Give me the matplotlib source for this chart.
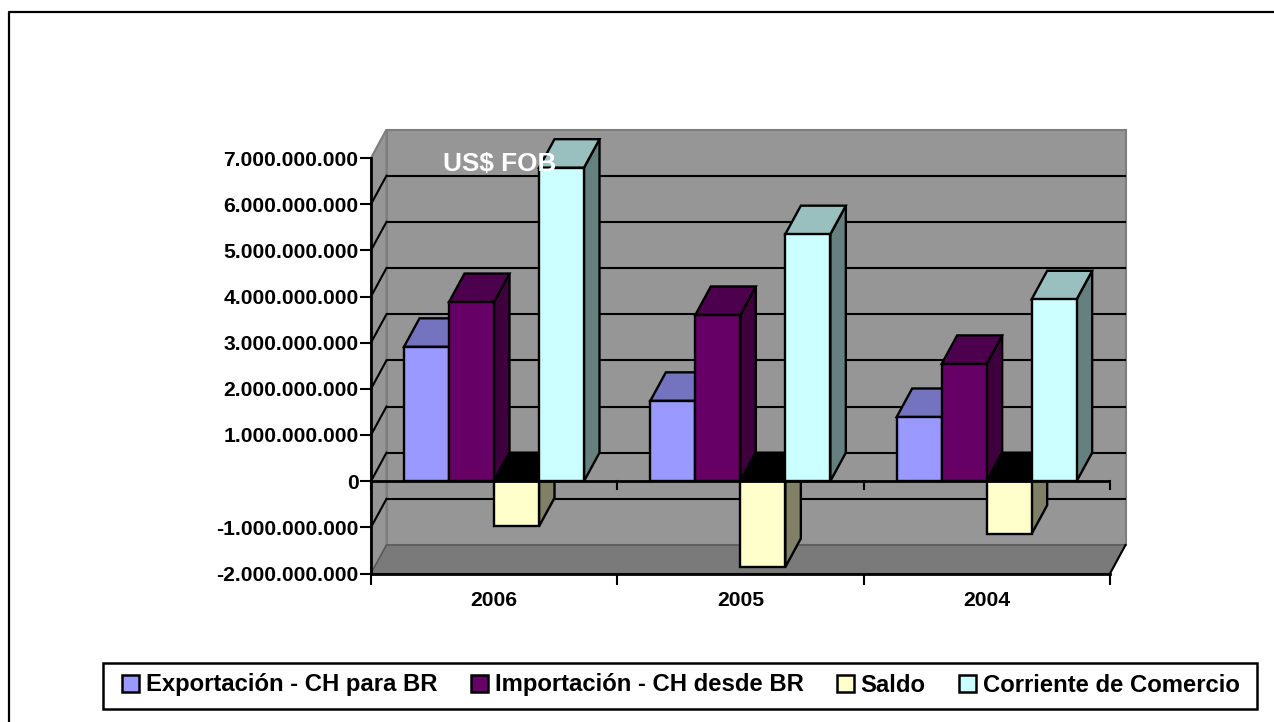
import numpy as np
from matplotlib import pyplot as plt
from matplotlib.lines import Line2D
from matplotlib.patches import Polygon, Rectangle

years = ['2006', '2005', '2004']
series = ['Exportación - CH para BR', 'Importación - CH desde BR', 'Saldo', 'Corriente de Comercio']
exportacion = [2.91e9, 1.74e9, 1.39e9]
importacion = [3.88e9, 3.60e9, 2.54e9]
saldo = [-0.98e9, -1.86e9, -1.14e9]
corriente = [6.79e9, 5.35e9, 3.94e9]
values = [exportacion, importacion, saldo, corriente]
front = ['#9999ff', '#660066', '#ffffcc', '#ccffff']
top = ['#7373bf', '#4d004d', '#000000', '#99bfbf']
side = ['#5c5c99', '#3d003d', '#808066', '#668080']

W, H = 1274, 722
plt.rcParams['font.family'] = ['Liberation Sans', 'DejaVu Sans']
plt.rcParams['font.weight'] = 'bold'

fig = plt.figure(figsize=(W / 100, H / 100), dpi=100)
# outer frame: only left and top edges show in the picture
fig.add_artist(Line2D([9 / W, 9 / W, 1], [0, 1 - 12 / H, 1 - 12 / H], color='black', lw=1.6))

# axes box is the front plane of the 3d chart
ax = fig.add_axes([371 / W, 1 - 573.5 / H, 739 / W, 415.5 / H])
ax.set_xlim(0, 3)
ax.set_ylim(-2e9, 7e9)
ax.patch.set_visible(False)

# depth of the box, in data units
dx = 15.5 / 739 * 3
dy = 28.5 / 415.5 * 9e9
ymin, ymax = -2e9, 7e9


def poly(pts, fc, ec='none', lw=0, z=1):
    ax.add_patch(Polygon(pts, closed=True, fc=fc, ec=ec, lw=lw, zorder=z, clip_on=False,
                         joinstyle='miter'))


# walls and floor
poly([(dx, ymin + dy), (3 + dx, ymin + dy), (3 + dx, ymax + dy), (dx, ymax + dy)], '#969696', '#7d7d7d', 1.5, 1)
poly([(0, ymin), (dx, ymin + dy), (dx, ymax + dy), (0, ymax)], '#969696', '#7d7d7d', 1.5, 1)
poly([(0, ymin), (3, ymin), (3 + dx, ymin + dy), (dx, ymin + dy)], '#7a7a7a', '#555555', 1, 1.5)

# gridlines on back and side wall
for v in np.arange(-1e9, 7e9, 1e9):
    ax.plot([dx, 3 + dx - 0.003], [v + dy, v + dy], color='black', lw=1.5, zorder=2, clip_on=False)
    ax.plot([0, dx], [v, v + dy], color='black', lw=1.5, zorder=2, clip_on=False)
ax.plot([3, 3 + dx], [ymin, ymin + dy], color='black', lw=1.5, zorder=2, clip_on=False)

# bars, left to right inside each group
bw = 45 / 739 * 3
start = 33 / 739 * 3
z = 3
for g in range(len(years)):
    for s in range(len(series)):
        v = values[s][g]
        x0 = g + start + s * bw
        x1 = x0 + bw
        if v >= 0:
            poly([(x1, 0), (x1 + dx, dy), (x1 + dx, v + dy), (x1, v)], side[s], 'black', 1.7, z)
            poly([(x0, v), (x1, v), (x1 + dx, v + dy), (x0 + dx, v + dy)], top[s], 'black', 1.7, z)
        else:
            poly([(x1, v), (x1 + dx, v + dy), (x1 + dx, dy), (x1, 0)], side[s], 'black', 1.7, z)
            poly([(x0, 0), (x1, 0), (x1 + dx, dy), (x0 + dx, dy)], top[s], 'black', 1.7, z + 0.1)
        ax.bar(x0, v, width=bw, align='edge', color=front[s], ec='black', lw=1.7,
               zorder=z + 0.2, clip_on=False)
        z += 1

ax.axhline(0, color='black', lw=2, zorder=z)
for t in [0, 1, 2, 3]:
    ax.plot([t, t], [0, -0.17e9], color='black', lw=1.5, zorder=z, clip_on=False)

for name in ['top', 'right']:
    ax.spines[name].set_visible(False)
for name in ['left', 'bottom']:
    ax.spines[name].set_linewidth(2)
    ax.spines[name].set_zorder(z + 1)

ax.set_yticks(np.arange(-2e9, 8e9, 1e9))
ax.set_yticklabels([f'{int(v):,}'.replace(',', '.') for v in np.arange(-2e9, 8e9, 1e9)], fontsize=15.2)
ax.set_xticks([0, 1, 2, 3])
ax.set_xticklabels([])
ax.tick_params(axis='y', length=8, width=1.5, pad=1)
ax.tick_params(axis='x', length=8, width=1.5)
for g, y in enumerate(years):
    ax.text(g + 0.5, -2.59e9, y, ha='center', va='center', fontsize=15.2)

ax.text((500 - 371) / 739 * 3, 6.87e9, 'US$ FOB', color='white', ha='center', va='center',
        fontsize=18.8, zorder=z + 5)

# legend, its box drawn apart so the padding can differ per side
fig.add_artist(Rectangle((103 / W, 1 - 708.5 / H), 1154 / W, 46 / H, transform=fig.transFigure,
                         fc='white', ec='black', lw=1.8))
handles = [Rectangle((0, 0), 1, 1, fc=c, ec='black', lw=1.8) for c in front]
leg = fig.legend(handles, series, loc='center', bbox_to_anchor=(681 / W, 1 - 685 / H), ncol=4,
                 fontsize=17.2, frameon=False, handlelength=0.72, handleheight=0.72,
                 handletextpad=0.28, columnspacing=1.39, borderpad=0, borderaxespad=0)
leg.set_zorder(5)

fig.savefig('out.png', dpi=100)
